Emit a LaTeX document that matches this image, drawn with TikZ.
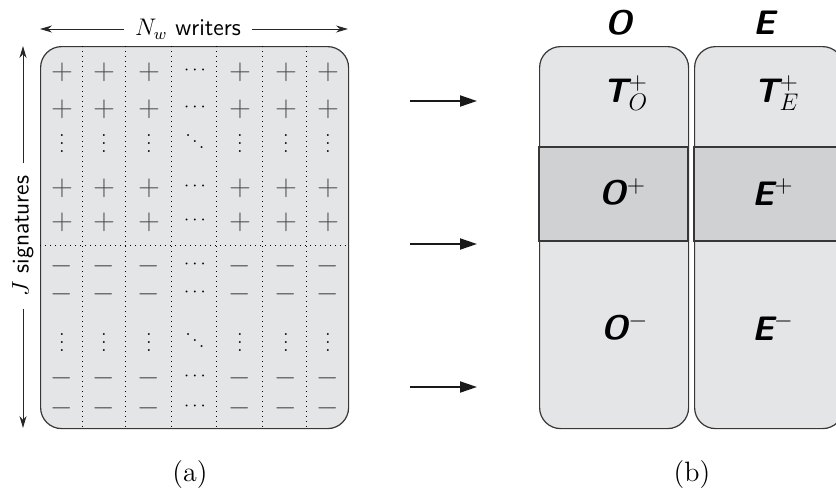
\documentclass[tikz,border=0pt]{standalone}
\usepackage{fontspec}
\usetikzlibrary{arrows.meta}
\definecolor{boxfill}{RGB}{228,229,231}
\definecolor{bandfill}{RGB}{208,209,211}
\definecolor{edgec}{RGB}{55,55,55}
\definecolor{signc}{RGB}{80,80,80}
\newcommand\myvdots{\vbox{\baselineskip4pt\lineskiplimit0pt\hbox{.}\hbox{.}\hbox{.}}}
\newcommand\myddots{\hbox{\raise7pt\hbox{.}\kern0.8pt\raise4pt\hbox{.}\kern0.8pt\raise1pt\hbox{.}}}
\begin{document}
\begin{tikzpicture}[x=0.5pt,y=-0.5pt,
  thinarrow/.style={-{Stealth[length=6pt,width=3.5pt]},line width=0.5pt,black!85},
  bigarrow/.style={-{Triangle[length=8.5pt,width=5.5pt]},line width=1pt,black!90},
  panel/.style={draw=edgec,line width=0.6pt,fill=boxfill,rounded corners=10.5pt},
  sep/.style={dotted,line width=0.5pt,black},
  signtxt/.style={text=signc,font=\fontsize{14}{16}\selectfont,inner sep=0pt},
  dotstxt/.style={text=black,font=\fontsize{9}{10}\selectfont,inner sep=0pt},
  lbl/.style={font=\fontsize{12}{14}\selectfont\sffamily,inner sep=0pt},
  captxt/.style={font=\fontsize{14}{16}\selectfont,inner sep=0pt},
  big/.style={font=\fontsize{17}{20}\selectfont\sffamily\bfseries\itshape,inner sep=0pt}]
\clip (0,0) rectangle (836,493);
% ---------- panel (a) ----------
\node[panel,minimum width=154pt,minimum height=191pt,anchor=north west,inner sep=0pt] (pa) at (40,46) {};
\foreach \x in {82,125,171,216,262,306}
  \draw[sep] (\x,46) -- (\x,428);
\draw[sep] (40,245) -- (348,245);
% signs
\foreach \x [count=\i] in {62,104,149,240,286,328}{
  \foreach \y [count=\j] in {72,109,188,222}
    \node[signtxt] (p\i-\j) at (\x,\y) {$+$};
  \foreach \y [count=\j] in {266,294,378,408}
    \node[signtxt] (m\i-\j) at (\x,\y) {$-$};
  \node[dotstxt] (vp\i) at (\x,144) {\myvdots};
  \node[dotstxt] (vm\i) at (\x,343) {\myvdots};
}
\foreach \y [count=\j] in {70,107,186,220,264,292,376,406}
  \node[dotstxt] (cd\j) at (195,\y) {$\cdots$};
\node[dotstxt] (dd1) at (195,143) {\myddots};
\node[dotstxt] (dd2) at (195,342) {\myddots};
% dimension labels
\node[lbl] (nw) at (188,29) {$N_w$ writers};
\coordinate (tl) at (40,29);
\coordinate (tr) at (348,29);
\draw[thinarrow] ([xshift=-5.5pt]nw.west) -- (tl);
\draw[thinarrow] ([xshift=5.5pt]nw.east) -- (tr);
\node[lbl,rotate=90] (js) at (23,236) {$J$ signatures};
\coordinate (lt) at (23,46);
\coordinate (lb) at (23,428);
\draw[thinarrow] ([yshift=6pt]js.east) -- (lt);
\draw[thinarrow] ([yshift=-6pt]js.west) -- (lb);
\node[captxt] (ca) at (190,475) {(a)};
% ---------- arrows ----------
\coordinate (a1s) at (410,101); \coordinate (a1e) at (477,101);
\coordinate (a2s) at (410,244); \coordinate (a2e) at (477,244);
\coordinate (a3s) at (410,387); \coordinate (a3e) at (477,387);
\draw[bigarrow] (a1s) -- (a1e);
\draw[bigarrow] (a2s) -- (a2e);
\draw[bigarrow] (a3s) -- (a3e);
% ---------- panel (b) ----------
\node[panel,minimum width=74.5pt,minimum height=191pt,anchor=north west,inner sep=0pt] (bo) at (539,46) {};
\node[panel,minimum width=74.5pt,minimum height=191pt,anchor=north west,inner sep=0pt] (be) at (694,46) {};
\filldraw[fill=bandfill,draw=edgec,line width=0.6pt] (539,147) rectangle (688,241);
\filldraw[fill=bandfill,draw=edgec,line width=0.6pt] (694,147) rectangle (843,241);
\node[big] (lo) at (619,23) {O};
\node[big] (le) at (764,23) {E};
\node[big] (to) at (626,93) {T$^{+}_{O}$};
\node[big] (te) at (777,93) {T$^{+}_{E}$};
\node[big] (op) at (623,192) {O$^{+}$};
\node[big] (ep) at (773,192) {E$^{+}$};
\node[big] (om) at (625,327) {O$^{-}$};
\node[big] (em) at (773,327) {E$^{-}$};
\node[captxt] (cb) at (692,475) {(b)};
\end{tikzpicture}
\end{document}
